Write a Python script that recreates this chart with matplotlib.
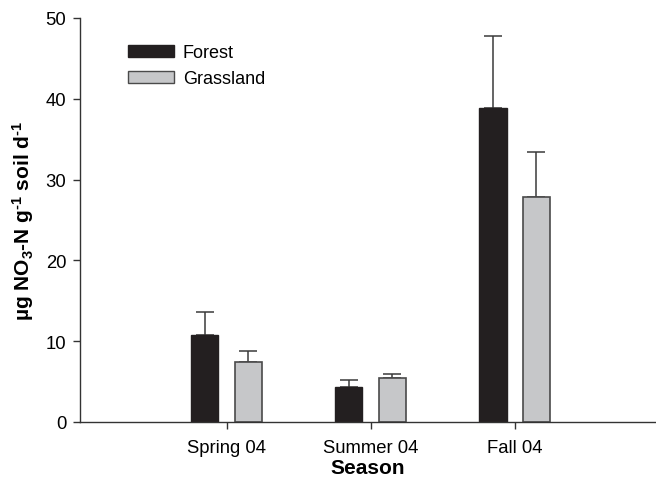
import numpy as np
import matplotlib.pyplot as plt
from matplotlib.patches import Patch

seasons = ["Spring 04", "Summer 04", "Fall 04"]
forest = [10.8, 4.3, 38.8]
forest_err = [2.85, 0.95, 9.0]
grass = [7.45, 5.4, 27.9]
grass_err = [1.3, 0.58, 5.5]

plt.rcParams['font.family'] = ['Liberation Sans', 'DejaVu Sans']
plt.rcParams['mathtext.fontset'] = 'custom'
plt.rcParams['mathtext.rm'] = 'Liberation Sans:bold'
plt.rcParams['mathtext.bf'] = 'Liberation Sans:bold'
plt.rcParams['mathtext.default'] = 'rm'

fig = plt.figure(figsize=(6.56, 4.81), dpi=100)
ax = fig.add_axes([0.122, 0.1206, 0.876, 0.84])

x = np.arange(len(seasons))
w = 0.19
ec = '#3a3a3a'
ax.bar(x - 0.153, forest, w, color='#231f20', edgecolor='#231f20', linewidth=1, zorder=2)
ax.bar(x + 0.150, grass, w, color='#c6c7c9', edgecolor='#4a4a4a', linewidth=1.2, zorder=2)
ax.errorbar(x - 0.153, forest, yerr=[np.zeros(3), forest_err], fmt='none',
            ecolor=ec, elinewidth=1.1, capsize=6.5, capthick=1.1, zorder=1)
ax.errorbar(x + 0.150, grass, yerr=[np.zeros(3), grass_err], fmt='none',
            ecolor=ec, elinewidth=1.1, capsize=6.5, capthick=1.1, zorder=1)

ax.set_xlim(-1.017, 2.97)
ax.set_ylim(0, 50)
ax.set_yticks(range(0, 51, 10))
ax.set_xticks(x)
ax.set_xticklabels(seasons)
ax.tick_params(labelsize=13.3, direction='out', length=5, width=1, color='#333333')
ax.tick_params(axis='x', pad=7)
ax.tick_params(axis='y', pad=5)
for s in ['top', 'right']:
    ax.spines[s].set_visible(False)
for s in ['left', 'bottom']:
    ax.spines[s].set_color('#333333')
    ax.spines[s].set_linewidth(1)

ax.set_xlabel('Season', fontsize=15, fontweight='bold', labelpad=2)
ax.set_ylabel(r'µg NO$_{3}$-N g$^{\text{-1}}$ soil d$^{\text{-1}}$',
              fontsize=15, fontweight='bold', labelpad=7)

handles = [Patch(facecolor='#231f20', edgecolor='#231f20'),
           Patch(facecolor='#c6c7c9', edgecolor='#4a4a4a')]
ax.legend(handles, ['Forest', 'Grassland'], loc='upper left',
          bbox_to_anchor=(0.056, 0.975), frameon=False, fontsize=13,
          handlelength=2.5, handleheight=0.72, handletextpad=0.5, labelspacing=0.5)

fig.savefig('out.png', dpi=100)
